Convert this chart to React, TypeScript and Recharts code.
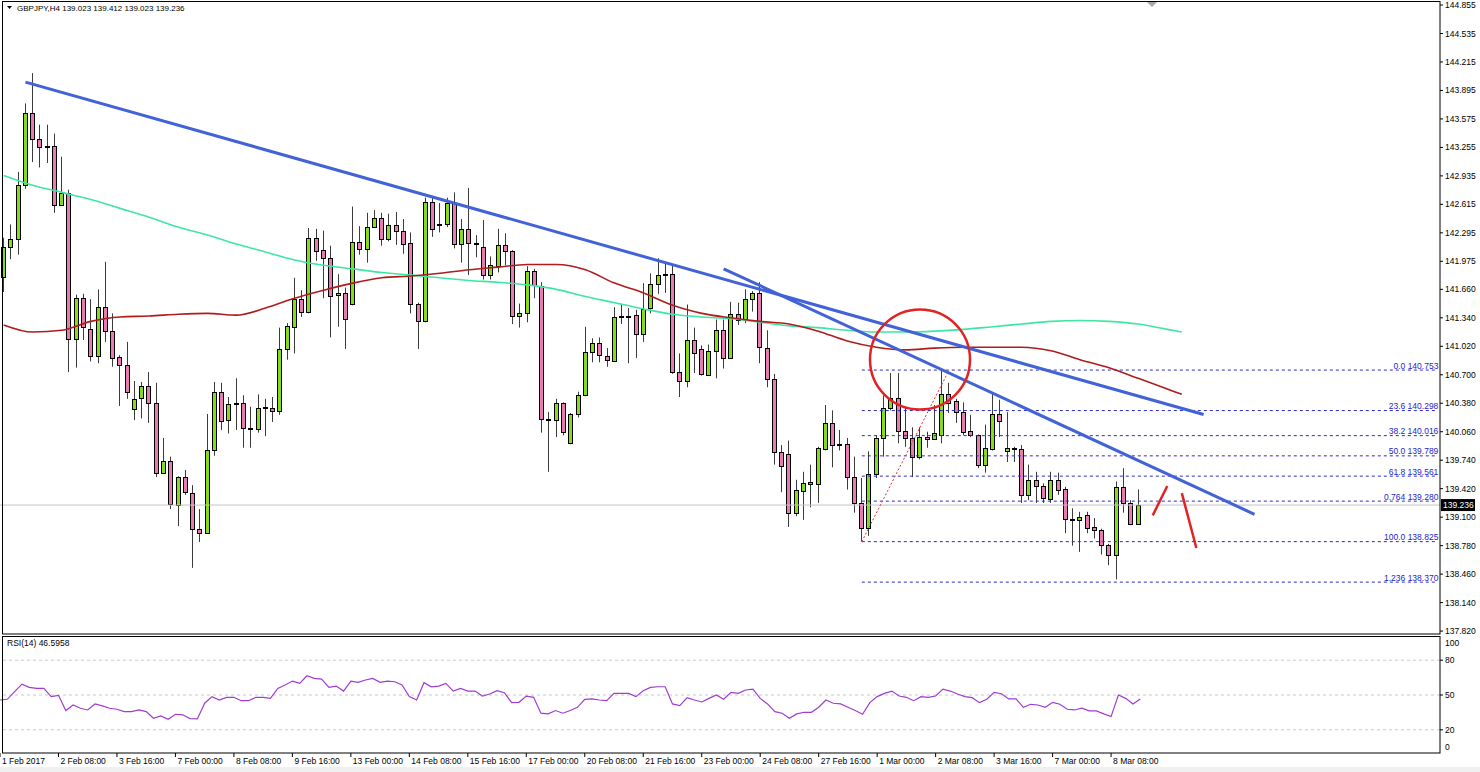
import { ComposedChart, LineChart, Bar, Line, XAxis, YAxis, ReferenceLine, ReferenceDot } from 'recharts';

const FONT = '"Liberation Sans", Arial, sans-serif';
const FS = 8.5;
const SLOTS = 198;
const GREEN = '#86dc1c';
const PINK = '#e87ab4';

// GBPJPY H4 candles, bar 0 = 1 Feb 2017 00:00
const opens = [
  141.80, 142.14, 142.23, 142.83, 143.64, 143.35, 143.26, 143.27, 142.61, 142.74,
  141.10, 141.56, 141.21, 140.91, 141.46, 141.19, 140.90, 140.81, 140.32, 140.44,
  140.57, 140.38, 139.60, 139.73, 139.24, 139.55, 139.37, 138.97, 138.92, 139.86,
  140.51, 140.19, 140.37, 140.38, 140.10, 140.09, 140.33, 140.33, 140.29, 140.99,
  141.24, 141.55, 141.41, 142.24, 142.10, 142.01, 141.60, 141.62, 141.50, 142.19,
  142.11, 142.36, 142.46, 142.23, 142.38, 142.32, 142.18, 141.50, 141.30, 142.64,
  142.38, 142.39, 142.63, 142.17, 142.34, 142.18, 142.14, 141.82, 141.92, 142.16,
  142.09, 141.36, 141.39, 141.87, 141.70, 140.20, 140.19, 140.38, 139.93, 140.26,
  140.47, 140.96, 141.06, 140.91, 140.86, 141.35, 141.35, 141.37, 141.16, 141.45,
  141.72, 141.82, 141.83, 140.73, 140.63, 141.09, 140.99, 140.70, 140.97, 141.20,
  140.89, 141.38, 141.33, 141.55, 141.62, 141.00, 140.65, 139.83, 139.81, 139.15,
  139.39, 139.49, 139.47, 139.87, 140.16, 139.92, 139.92, 139.55, 139.26, 138.98,
  139.59, 139.99, 140.33, 140.44, 140.07, 139.99, 139.78, 140.00, 139.98, 140.02,
  140.48, 140.40, 140.28, 140.07, 140.02, 139.69, 139.87, 140.26, 139.84, 139.88,
  139.87, 139.35, 139.52, 139.45, 139.30, 139.52, 139.42, 139.08, 139.07, 139.12,
  138.99, 138.96, 138.79, 138.68, 139.44, 139.26, 139.023,
];
const highs = [
  142.24, 142.39, 142.98, 143.75, 144.09, 143.51, 143.51, 143.41, 143.15, 142.78,
  141.60, 141.61, 141.55, 141.66, 141.97, 141.39, 140.92, 141.07, 140.63, 140.62,
  140.73, 140.61, 139.99, 139.78, 139.56, 139.63, 139.46, 139.19, 140.26, 140.62,
  140.61, 140.45, 140.66, 140.47, 140.34, 140.48, 140.43, 140.45, 141.23, 141.28,
  141.79, 141.65, 142.35, 142.34, 142.32, 142.15, 141.83, 141.68, 142.59, 142.37,
  142.52, 142.55, 142.52, 142.51, 142.53, 142.45, 142.30, 141.51, 142.69, 142.69,
  142.63, 142.69, 142.75, 142.45, 142.80, 142.27, 142.44, 142.03, 142.34, 142.29,
  142.10, 141.50, 141.92, 141.89, 141.74, 140.28, 140.43, 140.39, 140.27, 140.51,
  141.24, 141.11, 141.12, 141.00, 141.46, 141.49, 141.45, 141.43, 141.73, 141.84,
  142.01, 141.96, 141.93, 140.94, 141.49, 141.23, 141.03, 141.04, 141.32, 141.32,
  141.52, 141.51, 141.66, 141.64, 141.74, 141.20, 140.71, 139.91, 139.96, 139.52,
  139.61, 139.69, 139.89, 140.36, 140.30, 140.08, 139.99, 139.78, 139.54, 139.84,
  140.02, 140.47, 140.72, 140.72, 140.33, 140.11, 140.11, 140.06, 140.36, 140.753,
  140.61, 140.43, 140.39, 140.25, 140.03, 140.14, 140.49, 140.42, 140.28, 139.89,
  139.91, 139.69, 139.61, 139.48, 139.61, 139.60, 139.44, 139.20, 139.16, 139.16,
  139.09, 138.97, 138.80, 139.50, 139.65, 139.29, 139.412,
];
const lows = [
  141.63, 142.00, 142.05, 142.79, 143.09, 143.03, 143.08, 142.52, 142.60, 140.73,
  140.78, 141.09, 140.85, 140.83, 141.07, 140.79, 140.35, 140.43, 140.19, 140.21,
  140.16, 139.55, 139.59, 139.19, 139.00, 139.35, 138.53, 138.82, 138.92, 139.79,
  140.08, 140.04, 140.08, 139.88, 139.88, 140.05, 140.01, 140.17, 140.25, 140.87,
  140.94, 141.35, 141.39, 141.98, 141.56, 141.12, 141.24, 140.99, 141.48, 142.05,
  141.96, 142.35, 142.15, 142.20, 142.16, 142.06, 141.39, 140.99, 141.29, 142.25,
  142.30, 142.36, 142.12, 141.96, 141.82, 142.02, 141.77, 141.77, 141.85, 141.93,
  141.27, 141.23, 141.29, 141.56, 140.05, 139.61, 140.00, 140.02, 139.92, 140.22,
  140.46, 140.84, 140.84, 140.79, 140.86, 141.27, 140.83, 140.89, 141.07, 141.39,
  141.61, 141.62, 140.71, 140.45, 140.56, 140.72, 140.69, 140.69, 140.66, 140.77,
  140.88, 141.26, 141.28, 141.41, 140.83, 140.56, 139.69, 139.38, 138.99, 139.11,
  139.07, 139.21, 139.26, 139.85, 139.66, 139.85, 139.41, 139.15, 138.825, 138.89,
  139.54, 139.78, 140.30, 139.93, 139.89, 139.55, 139.75, 139.88, 139.97, 139.93,
  140.27, 140.16, 140.02, 140.00, 139.65, 139.60, 139.85, 140.00, 139.72, 139.72,
  139.26, 139.29, 139.26, 139.26, 139.26, 139.35, 138.92, 138.78, 138.71, 138.92,
  138.86, 138.68, 138.56, 138.40, 139.15, 139.01, 139.023,
];
const closes = [
  142.14, 142.23, 142.83, 143.64, 143.35, 143.26, 143.27, 142.61, 142.74, 141.10,
  141.56, 141.24, 140.91, 141.46, 141.19, 140.89, 140.81, 140.51, 140.43, 140.57,
  140.38, 139.60, 139.73, 139.25, 139.55, 139.38, 138.97, 138.92, 139.86, 140.51,
  140.18, 140.37, 140.38, 140.10, 140.09, 140.33, 140.34, 140.29, 140.99, 141.25,
  141.55, 141.41, 142.24, 142.09, 142.01, 141.59, 141.62, 141.33, 142.19, 142.11,
  142.36, 142.46, 142.23, 142.38, 142.32, 142.17, 141.50, 141.30, 142.64, 142.34,
  142.39, 142.63, 142.17, 142.34, 142.18, 142.18, 141.82, 141.93, 142.16, 142.09,
  141.36, 141.39, 141.87, 141.71, 140.20, 140.19, 140.38, 140.06, 140.26, 140.47,
  140.96, 141.06, 140.92, 140.87, 141.35, 141.36, 141.36, 141.16, 141.44, 141.72,
  141.82, 141.83, 140.73, 140.63, 141.09, 140.94, 140.71, 140.97, 141.20, 140.89,
  141.38, 141.32, 141.55, 141.62, 141.01, 140.65, 139.83, 139.67, 139.15, 139.41,
  139.48, 139.47, 139.88, 140.16, 139.91, 139.92, 139.55, 139.26, 138.98, 139.59,
  139.99, 140.33, 140.44, 140.07, 139.99, 139.78, 140.00, 139.98, 140.05, 140.48,
  140.38, 140.28, 140.06, 140.02, 139.69, 139.88, 140.26, 140.18, 139.88, 139.87,
  139.35, 139.52, 139.45, 139.31, 139.52, 139.41, 139.08, 139.07, 139.10, 138.98,
  138.96, 138.79, 138.68, 139.44, 139.26, 139.02, 139.236,
];

// RSI(14)
const rsiValues = [
  45.7, 46.3, 52.9, 59.4, 56.6, 55.7, 55.7, 48.6, 49.7, 36.6,
  41.4, 38.6, 37.1, 42.3, 40.6, 38.6, 37.7, 35.7, 35.7, 37.1,
  35.7, 30.0, 32.0, 29.1, 33.4, 32.9, 29.7, 29.4, 42.9, 48.6,
  45.7, 48.0, 48.0, 45.1, 45.1, 48.0, 48.0, 47.1, 55.7, 58.6,
  62.0, 60.0, 66.6, 64.3, 63.7, 56.6, 57.7, 53.4, 62.0, 60.9,
  62.9, 64.3, 60.9, 62.0, 61.4, 58.6, 48.6, 45.7, 60.6, 57.1,
  57.7, 60.0, 53.4, 55.7, 53.4, 53.4, 49.1, 50.9, 53.7, 52.0,
  43.4, 43.7, 49.1, 48.0, 34.3, 33.7, 36.6, 34.3, 36.6, 39.4,
  46.3, 46.6, 45.7, 45.1, 51.4, 51.4, 51.4, 48.6, 53.7, 56.6,
  57.1, 57.1, 42.3, 40.9, 47.7, 45.7, 44.0, 47.1, 50.0, 46.3,
  52.3, 51.4, 54.3, 55.1, 47.1, 42.3, 35.7, 34.3, 30.0, 33.7,
  35.1, 35.1, 39.4, 45.7, 42.9, 42.3, 39.4, 36.6, 33.4, 43.4,
  48.6, 51.4, 53.4, 49.1, 48.0, 45.1, 48.6, 48.0, 49.1, 55.1,
  53.4, 50.9, 48.6, 47.7, 43.4, 46.3, 52.3, 51.1, 46.6, 46.6,
  39.4, 42.0, 41.4, 39.4, 43.7, 42.0, 37.7, 37.1, 38.6, 36.3,
  36.3, 33.7, 31.4, 50.0, 47.1, 42.3, 46.6,
];

// moving averages (shifted forward), read at these bars
const maIndex = [
  0, 4, 8, 12, 16, 20, 24, 28, 32, 36, 40, 44, 48, 52, 56, 60, 64, 68, 72, 76, 80,
  84, 88, 92, 96, 100, 104, 108, 112, 116, 120, 124, 128, 132, 136, 140, 144, 148,
  152, 156, 160, 162,
];
const maRed = [
  141.26, 141.18, 141.20, 141.30, 141.35, 141.36, 141.38, 141.39, 141.37, 141.45,
  141.56, 141.65, 141.73, 141.79, 141.81, 141.84, 141.88, 141.91, 141.94, 141.94,
  141.88, 141.73, 141.62, 141.48, 141.39, 141.34, 141.30, 141.27, 141.19, 141.08,
  141.01, 140.98, 141.00, 141.01, 141.01, 141.01, 140.97, 140.87, 140.78, 140.66,
  140.54, 140.48,
];
const maGreen = [
  142.94, 142.83, 142.75, 142.67, 142.57, 142.47, 142.36, 142.27, 142.17, 142.08,
  141.99, 141.93, 141.89, 141.85, 141.82, 141.79, 141.76, 141.74, 141.71, 141.66,
  141.58, 141.51, 141.44, 141.38, 141.35, 141.33, 141.29, 141.25, 141.23, 141.20,
  141.18, 141.18, 141.19, 141.21, 141.24, 141.27, 141.30, 141.31, 141.30, 141.27,
  141.21, 141.18,
];

const priceTicks = [
  144.855, 144.535, 144.215, 143.895, 143.575, 143.255, 142.935, 142.615, 142.295,
  141.975, 141.66, 141.34, 141.02, 140.7, 140.38, 140.06, 139.74, 139.42, 139.1,
  138.78, 138.46, 138.14, 137.82,
];
const rsiTicks = [0, 20, 50, 80, 100];
const timeLabels = [
  '1 Feb 2017', '2 Feb 08:00', '3 Feb 16:00', '7 Feb 00:00', '8 Feb 08:00',
  '9 Feb 16:00', '13 Feb 00:00', '14 Feb 08:00', '15 Feb 16:00', '17 Feb 00:00',
  '20 Feb 08:00', '21 Feb 16:00', '23 Feb 00:00', '24 Feb 08:00', '27 Feb 16:00',
  '1 Mar 00:00', '2 Mar 08:00', '3 Mar 16:00', '7 Mar 00:00', '8 Mar 08:00',
];

const fibNames = ['0.0', '23.6', '38.2', '50.0', '61.8', '0.764', '100.0', '1.236'];
const fibPrices = [140.753, 140.298, 140.016, 139.789, 139.561, 139.28, 138.825, 138.37];

// trendlines: [startBar, startPrice, endBar, endPrice]
const trendLines = [
  [3, 143.989, 165, 140.253],
  [99, 141.891, 172, 139.132],
];
const redMarks = [
  [158, 139.12, 160, 139.45],
  [162, 139.37, 164, 138.754],
];
const lastPrice = 139.236;

const rows = Array.from({ length: SLOTS }, (_, i) => {
  const row: any = { i };
  if (i < closes.length) {
    row.o = opens[i];
    row.h = highs[i];
    row.l = lows[i];
    row.c = closes[i];
    row.range = [lows[i], highs[i]];
    row.rsi = rsiValues[i];
  }
  const k = maIndex.indexOf(i);
  if (k >= 0) {
    row.maRed = maRed[k];
    row.maGreen = maGreen[k];
  }
  return row;
});

const Candle = (props: any) => {
  const { x, y, width, height, payload } = props;
  if (!payload || payload.h == null || y == null) return null;
  const { o, h, l, c } = payload;
  const span = h - l || 1;
  const toY = (p: number) => y + ((h - p) / span) * height;
  const cx = Math.floor(x + width / 2) + 0.5;
  const top = Math.round(toY(Math.max(o, c))) + 0.5;
  const bottom = Math.round(toY(Math.min(o, c))) + 0.5;
  return (
    <g>
      <line x1={cx} x2={cx} y1={y} y2={y + height} stroke="#3c3c3c" strokeWidth={1} />
      <rect
        x={cx - 2}
        y={top}
        width={4}
        height={Math.max(bottom - top, 0.5)}
        fill={c >= o ? GREEN : PINK}
        stroke="#000"
        strokeWidth={1}
        shapeRendering="crispEdges"
      />
    </g>
  );
};

const PriceTick = ({ x, y, payload }: any) => (
  <g>
    <line x1={x} x2={x + 3} y1={y} y2={y} stroke="#000" />
    <text x={x + 5} y={y} dy={3} fontSize={FS} fontFamily={FONT} fill="#000">
      {Number(payload.value).toFixed(3)}
    </text>
  </g>
);

const RsiTick = ({ x, y, payload }: any) => {
  const v = payload.value;
  const shift = v === 100 ? 6 : v === 0 ? -6 : 0;
  return (
    <g>
      {shift === 0 && <line x1={x} x2={x + 3} y1={y} y2={y} stroke="#000" />}
      <text x={x + 5} y={y + shift} dy={3} fontSize={FS} fontFamily={FONT} fill="#000">
        {v}
      </text>
    </g>
  );
};

const TimeTick = ({ x, y, payload }: any) => {
  const label = timeLabels[payload.value / 8];
  if (!label) return null;
  return (
    <g>
      <line x1={x} x2={x} y1={y} y2={y + 4} stroke="#000" />
      <text x={x + 2} y={y + 11} fontSize={FS} fontFamily={FONT} fill="#000">
        {label}
      </text>
    </g>
  );
};

const FibLabel = ({ viewBox, text }: any) => (
  <text
    x={viewBox.x + viewBox.width + 2}
    y={viewBox.y - 1.5}
    textAnchor="end"
    fontSize={FS}
    fontFamily={FONT}
    fill="#2525cc"
  >
    {text}
  </text>
);

const PriceBox = ({ viewBox }: any) => (
  <g>
    <rect x={viewBox.x + viewBox.width + 1} y={viewBox.y - 6} width={34} height={12} fill="#000" />
    <text
      x={viewBox.x + viewBox.width + 3}
      y={viewBox.y + 3}
      fontSize={FS}
      fontFamily={FONT}
      fill="#fff"
    >
      {lastPrice.toFixed(3)}
    </text>
  </g>
);

export default function App() {
  return (
    <div style={{ position: 'relative', width: 1480, height: 772, background: '#fff', overflow: 'hidden' }}>
      <style>{'body{margin:0}'}</style>
      <div style={{ position: 'absolute', left: 0, top: 0 }}>
        <ComposedChart width={1480} height={640} data={rows} margin={{ top: 2, right: 0, bottom: 6, left: 0 }}>
          <XAxis dataKey="i" type="category" hide />
          <YAxis
            orientation="right"
            type="number"
            width={40}
            domain={[137.787, 144.889]}
            allowDataOverflow
            ticks={priceTicks}
            interval={0}
            tickSize={0}
            tickMargin={0}
            axisLine={false}
            tick={<PriceTick />}
          />
          <ReferenceLine y={lastPrice} stroke="#c4c4c4" label={<PriceBox />} />
          {fibPrices.map((p, k) => (
            <ReferenceLine
              key={'fib' + k}
              segment={[{ x: 118, y: p }, { x: SLOTS - 1, y: p }]}
              stroke="#2a2ac8"
              strokeDasharray="3 3"
              label={<FibLabel text={`${fibNames[k]} ${p.toFixed(3)}`} />}
            />
          ))}
          <ReferenceLine
            segment={[{ x: 118, y: fibPrices[6] }, { x: 130, y: fibPrices[0] }]}
            stroke="#e03030"
            strokeDasharray="2 2"
          />
          <Line
            dataKey="maGreen"
            type="monotone"
            stroke="#3ee6a4"
            strokeWidth={1.6}
            dot={false}
            connectNulls
            isAnimationActive={false}
          />
          <Line
            dataKey="maRed"
            type="monotone"
            stroke="#b01c1c"
            strokeWidth={1.6}
            dot={false}
            connectNulls
            isAnimationActive={false}
          />
          <Bar dataKey="range" barSize={5} shape={<Candle />} isAnimationActive={false} />
          {trendLines.map((t, k) => (
            <ReferenceLine
              key={'tl' + k}
              segment={[{ x: t[0], y: t[1] }, { x: t[2], y: t[3] }]}
              stroke="#4262d8"
              strokeWidth={3}
            />
          ))}
          {redMarks.map((t, k) => (
            <ReferenceLine
              key={'rm' + k}
              segment={[{ x: t[0], y: t[1] }, { x: t[2], y: t[3] }]}
              stroke="#e02424"
              strokeWidth={2.5}
            />
          ))}
          <ReferenceDot x={126} y={140.872} r={50} fill="none" stroke="#e02424" strokeWidth={2.5} />
        </ComposedChart>
      </div>
      <div style={{ position: 'absolute', left: 0, top: 634 }}>
        <LineChart width={1480} height={138} data={rows} margin={{ top: 3, right: 0, bottom: 0, left: 0 }}>
          <XAxis
            dataKey="i"
            type="category"
            height={19}
            interval={7}
            tickSize={0}
            tickMargin={0}
            axisLine={false}
            tick={<TimeTick />}
          />
          <YAxis
            orientation="right"
            type="number"
            width={40}
            domain={[0, 100]}
            ticks={rsiTicks}
            interval={0}
            tickSize={0}
            tickMargin={0}
            axisLine={false}
            tick={<RsiTick />}
          />
          {[80, 50, 20].map((v) => (
            <ReferenceLine key={'lvl' + v} y={v} stroke="#c8c8c8" strokeDasharray="3 3" />
          ))}
          <Line
            dataKey="rsi"
            type="linear"
            stroke="#a03cd0"
            strokeWidth={1.2}
            dot={false}
            isAnimationActive={false}
          />
        </LineChart>
      </div>
      <svg
        width={1480}
        height={772}
        style={{ position: 'absolute', left: 0, top: 0, pointerEvents: 'none' }}
      >
        <rect x={2.5} y={1.5} width={1437.5} height={632.5} fill="none" stroke="#000" />
        <rect x={2.5} y={636.5} width={1437.5} height={116.5} fill="none" stroke="#000" />
        <polygon points="7,6 12,6 9.5,9" fill="#000" />
        <text x={17} y={11} fontSize={8} fontFamily={FONT} fill="#000">
          GBPJPY,H4  139.023 139.412 139.023 139.236
        </text>
        <text x={7} y={646} fontSize={FS} fontFamily={FONT} fill="#000">
          RSI(14) 46.5958
        </text>
        <polygon points="1147,2 1157,2 1152,7" fill="#a8a8a8" />
        <rect x={0} y={767} width={1480} height={5} fill="#f0f0f0" />
      </svg>
    </div>
  );
}
